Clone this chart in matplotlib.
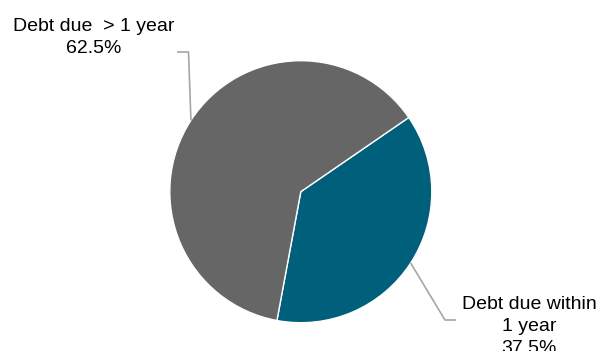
import numpy as np
import matplotlib
matplotlib.use("Agg")
from matplotlib import pyplot as plt

plt.rcParams['font.family'] = ['Liberation Sans', 'DejaVu Sans']

labels = ["Debt due within\n1 year", "Debt due  > 1 year"]
shares = [37.5, 62.5]
colors = ["#005f7a", "#666666"]

fig = plt.figure(figsize=(6, 3.51), dpi=100)
ax = fig.add_axes([0, 0, 1, 1])

cx, cy, r = 300.8, 159.3, 131
wedges, _ = ax.pie(shares, colors=colors, startangle=34.5, counterclock=False,
                   center=(cx, cy), radius=r, frame=True,
                   wedgeprops=dict(edgecolor='white', linewidth=1))
ax.set_xlim(0, 600)
ax.set_ylim(0, 351)
ax.set_aspect('equal')
ax.axis('off')

# leader elbows and label anchors (pixel layout, last-line baseline)
elbows = [[(445, 31), (456, 31)], [(188.5, 299), (177, 299)]]
text_pos = [(529, -2), (94, 298)]

for w, lab, val, elb, tp in zip(wedges, labels, shares, elbows, text_pos):
    ang = np.deg2rad((w.theta1 + w.theta2) / 2)
    x0 = cx + r * np.cos(ang)
    y0 = cy + r * np.sin(ang)
    xs = [x0] + [p[0] for p in elb]
    ys = [y0] + [p[1] for p in elb]
    ax.plot(xs, ys, color='#a6a6a6', lw=1.2, solid_capstyle='butt')
    ax.text(tp[0], tp[1], lab + "\n" + "{:.1f}%".format(val), ha='center', va='baseline',
            fontsize=14, linespacing=1.38, color='black', clip_on=False)

fig.savefig('out.png', dpi=100)
